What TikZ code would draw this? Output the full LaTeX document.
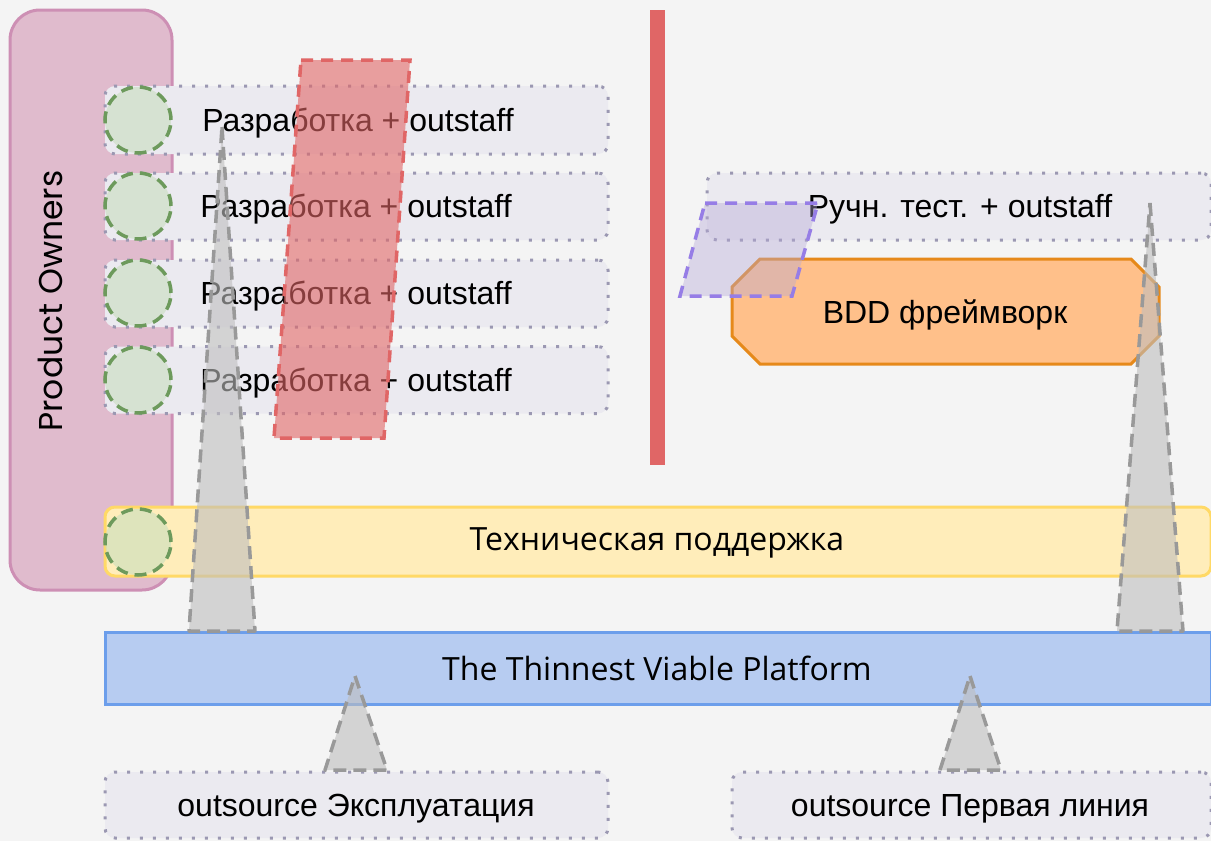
\documentclass[tikz,border=0pt]{standalone}
\usepackage{fontspec}
\setmainfont{Liberation Sans}
\newfontfamily\osfont{Open Sans}
\newfontfamily\popfont{Poppins}
\definecolor{bgc}{RGB}{244,244,244}
\definecolor{pofill}{RGB}{224,187,205}
\definecolor{podraw}{RGB}{205,143,180}
\definecolor{rowfill}{RGB}{235,234,240}
\definecolor{rowdraw}{RGB}{155,152,178}
\definecolor{circfill}{RGB}{200,222,190}
\definecolor{circdraw}{RGB}{109,154,92}
\definecolor{redc}{RGB}{224,102,102}
\definecolor{lavfill}{RGB}{180,167,214}
\definecolor{lavdraw}{RGB}{150,125,230}
\definecolor{orfill}{RGB}{255,192,138}
\definecolor{ordraw}{RGB}{230,137,26}
\definecolor{yelfill}{RGB}{255,237,186}
\definecolor{yeldraw}{RGB}{255,217,102}
\definecolor{bluefill}{RGB}{183,204,241}
\definecolor{bluedraw}{RGB}{108,158,235}
\definecolor{trifill}{RGB}{190,190,190}
\definecolor{tridraw}{RGB}{153,153,153}
\begin{document}
\begin{tikzpicture}[x=1pt,y=-1pt,
  every node/.style={inner sep=0pt, outer sep=0pt},
  pobox/.style={draw=podraw, fill=pofill, line width=3pt, rounded corners=30pt},
  rowbox/.style={draw=rowdraw, fill=rowfill, line width=3pt, dash pattern=on 3pt off 10pt, rounded corners=10pt},
  lbl/.style={font=\fontsize{32}{36}\selectfont},
  oslbl/.style={font=\osfont\fontsize{32}{36}\selectfont},
  circ/.style={circle, draw=circdraw, fill=circfill, fill opacity=0.6, draw opacity=1, line width=3.5pt, dash pattern=on 12pt off 7pt, minimum size=66pt},
  yelbox/.style={draw=yeldraw, fill=yelfill, line width=3pt, rounded corners=10pt},
  bluebox/.style={draw=bluedraw, fill=bluefill, line width=3pt},
  tri/.style={draw=tridraw, fill=trifill, fill opacity=0.6, draw opacity=1, line width=3.5pt, dash pattern=on 13pt off 7pt, line join=round},
  redpar/.style={draw=redc, fill=redc, fill opacity=0.6, draw opacity=1, line width=3.5pt, dash pattern=on 12pt off 8pt},
  lavpar/.style={draw=lavdraw, fill=lavfill, fill opacity=0.4, draw opacity=1, line width=3.5pt, dash pattern=on 12pt off 8pt},
  octo/.style={draw=ordraw, fill=orfill, line width=3pt, line join=miter}
]
\fill[bgc] (0,0) rectangle (1211,841);
\useasboundingbox (0,0) rectangle (1211,841);

% Product Owners
\node[pobox, minimum width=162pt, minimum height=580pt] (po) at (91,300) {};
\node[rotate=90, font=\popfont\fontsize{33}{36}\selectfont] (potext) at (50,301) {Product Owners};

% development rows
\node[rowbox, minimum width=503pt, minimum height=68pt] (dev1) at (356.5,120) {};
\node[rowbox, minimum width=503pt, minimum height=67pt] (dev2) at (356.5,206.5) {};
\node[rowbox, minimum width=503pt, minimum height=67pt] (dev3) at (356.5,293.5) {};
\node[rowbox, minimum width=503pt, minimum height=67pt] (dev4) at (356.5,380) {};
\node[rowbox, minimum width=504pt, minimum height=67pt] (manual) at (959,206.5) {};
\node[lbl] (dev1t) at (358,123) {Разработка + outstaff};
\node[lbl] (dev2t) at (356,209) {Разработка + outstaff};
\node[lbl] (dev3t) at (356,296) {Разработка + outstaff};
\node[lbl] (dev4t) at (356,383) {Разработка + outstaff};
\node[lbl] (manualt) at (960,209) {Ручн. тест. + outstaff};

% support, platform
\node[yelbox, minimum width=1106pt, minimum height=69pt] (support) at (658,541.5) {};
\node[oslbl] (supportt) at (657,543) {Техническая поддержка};
\node[bluebox, minimum width=1106pt, minimum height=72pt] (tvp) at (658,668) {};
\node[oslbl] (tvpt) at (657,668) {The Thinnest Viable Platform};

% bottom boxes
\node[rowbox, minimum width=503pt, minimum height=66pt] (ops) at (356.5,805) {};
\node[rowbox, minimum width=479pt, minimum height=66pt] (first) at (971.5,805) {};
\node[lbl] (opst) at (356,809) {outsource Эксплуатация};
\node[lbl] (firstt) at (970,809) {outsource Первая линия};

% circles
\node[circ] (c1) at (138,120) {};
\node[circ] (c2) at (138,206) {};
\node[circ] (c3) at (138,293) {};
\node[circ] (c4) at (138,380) {};
\node[circ] (c5) at (138,542) {};

% red vertical bar
\fill[redc] (650,10) rectangle (665,465);

% BDD octagon
\node[minimum width=427pt, minimum height=105pt] (bdd) at (945.5,311.5) {};
\draw[octo] (760,259) -- (1131,259) -- (1159,287) -- (1159,336) -- (1131,364) -- (760,364) -- (732,336) -- (732,287) -- cycle;
\node[lbl] (bddtext) at (945,315) {BDD фреймворк};

% gray triangles
\draw[tri] (222,127) -- (255,631) -- (189,631) -- cycle;
\draw[tri] (1150,203) -- (1183,631) -- (1117,631) -- cycle;
\draw[tri] (355,676) -- (387,770) -- (325,770) -- cycle;
\draw[tri] (970,676) -- (1001,770) -- (940,770) -- cycle;

% parallelograms
\draw[redpar] (301,60) -- (410,60) -- (384,438) -- (274,438) -- cycle;
\draw[lavpar] (705,203) -- (818,203) -- (792,296) -- (680,296) -- cycle;
\end{tikzpicture}
\end{document}
